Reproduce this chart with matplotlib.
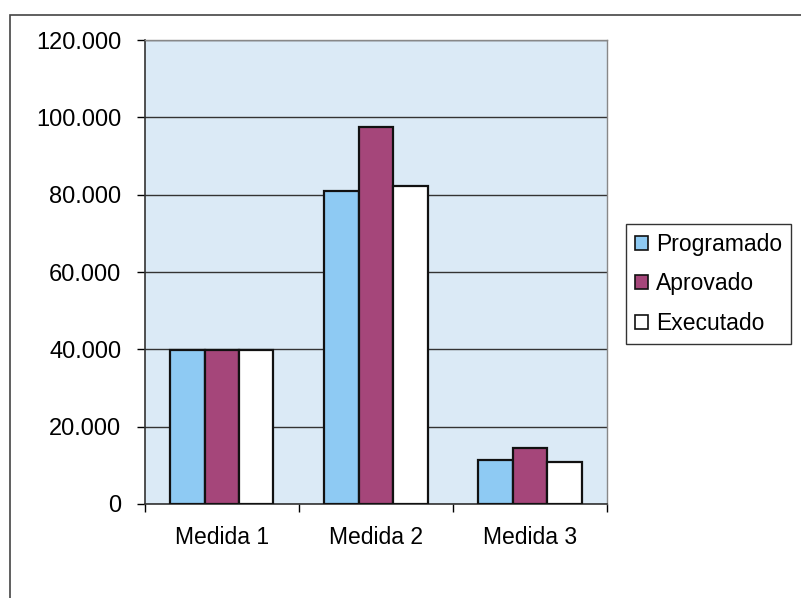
import numpy as np
import matplotlib.pyplot as plt
from matplotlib.patches import Rectangle
from matplotlib.ticker import FuncFormatter

# data
medidas = ["Medida 1", "Medida 2", "Medida 3"]
programado = [39800, 81000, 11500]
aprovado = [39800, 97500, 14600]
executado = [39800, 82300, 10800]

series = ["Programado", "Aprovado", "Executado"]
colors = ["#8ecaf3", "#a5467a", "#ffffff"]

plt.rcParams['font.family'] = ['Liberation Sans', 'DejaVu Sans']

fig = plt.figure(figsize=(8.01, 5.98), dpi=100)
ax = fig.add_axes([0.181, 0.1572, 0.5768, 0.7759])
ax.set_facecolor("#dbeaf6")

x = np.arange(len(medidas))
w = 0.223
for i, (vals, name, col) in enumerate(zip([programado, aprovado, executado], series, colors)):
    ax.bar(x + (i - 1) * w, vals, width=w, color=col, edgecolor="#111111",
           linewidth=1.6, label=name, zorder=3)

ax.set_xlim(-0.5, 2.5)
ax.set_ylim(0, 120000)
ax.set_yticks(np.arange(0, 120001, 20000))
ax.yaxis.set_major_formatter(FuncFormatter(lambda v, p: "0" if v == 0 else f"{int(v):,}".replace(",", ".")))
ax.yaxis.grid(True, color="#333333", linewidth=1.0, zorder=1)

ax.set_xticks([-0.5, 0.5, 1.5, 2.5])
ax.set_xticklabels([])
ax.set_xticks(x, minor=True)
ax.set_xticklabels(medidas, minor=True)
ax.tick_params(axis='x', which='minor', length=0, pad=16, labelsize=16.5)
ax.tick_params(axis='x', which='major', length=6, direction='out', width=1)
ax.tick_params(axis='y', length=6, direction='out', width=1, labelsize=17, pad=11)

for s in ["top", "right"]:
    ax.spines[s].set_color("#888888")
    ax.spines[s].set_linewidth(1.0)
for s in ["left", "bottom"]:
    ax.spines[s].set_color("#333333")
    ax.spines[s].set_linewidth(1.2)

leg = fig.legend(loc="upper left", bbox_to_anchor=(0.781, 0.626),
                 bbox_transform=fig.transFigure, fontsize=16.5,
                 handlelength=0.57, handleheight=0.57, handletextpad=0.35,
                 labelspacing=0.72, borderpad=0.4, borderaxespad=0,
                 fancybox=False, framealpha=1)
leg.get_frame().set_edgecolor("#333333")
leg.get_frame().set_linewidth(1.0)
for h in leg.legend_handles:
    h.set_linewidth(1.2)

# outer chart frame
fig.add_artist(Rectangle((0.0125, -0.05), 1.1, 1.025, transform=fig.transFigure,
                         fill=False, edgecolor="#444444", linewidth=1.2, clip_on=False))

fig.savefig("out.png", dpi=100)
